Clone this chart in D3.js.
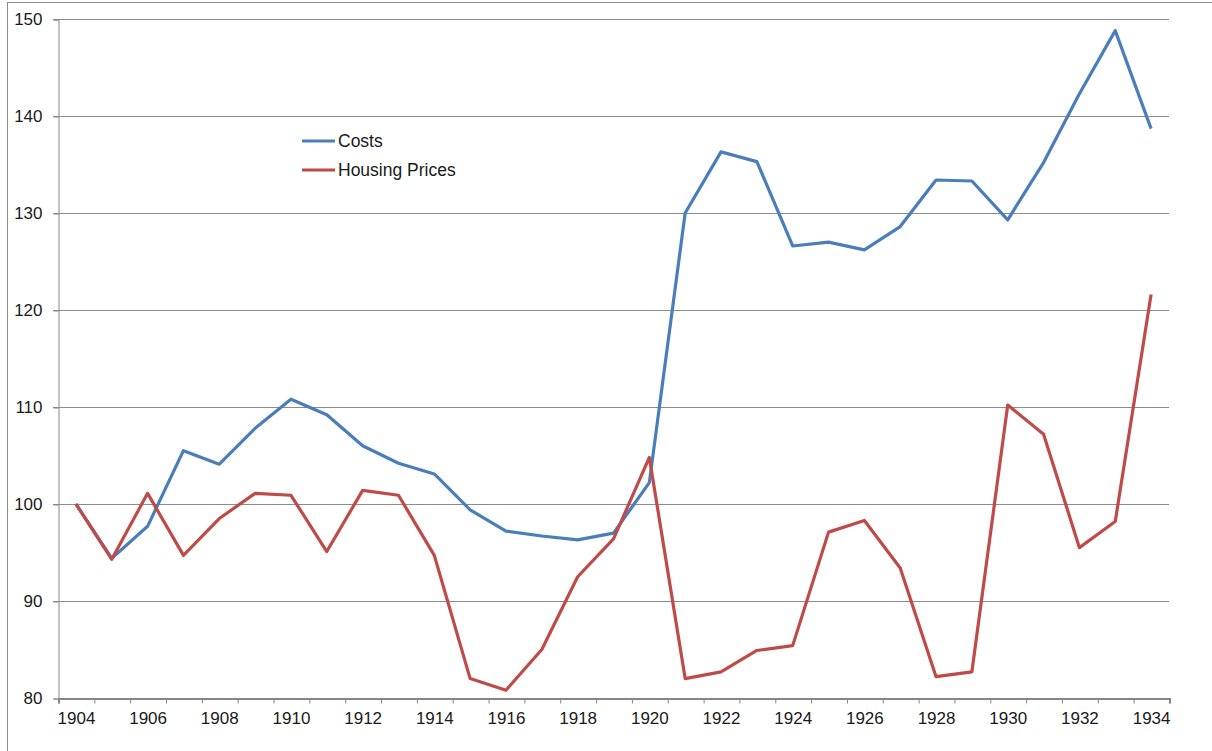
<!DOCTYPE html>
<html>
<head>
<meta charset="utf-8">
<script src="https://cdn.jsdelivr.net/npm/d3@7"></script>
<style>
body { margin: 0; background: #fff; }
text { font-family: "Liberation Sans", Arial, sans-serif; fill: #1a1a1a; }
</style>
</head>
<body>
<script>
var width = 1212, height = 751;

// data
var years = d3.range(1904, 1935);
var costs = [100, 94.4, 97.7, 105.5, 104.1, 107.8, 110.8, 109.2, 106.0, 104.2,
             103.1, 99.4, 97.2, 96.7, 96.3, 97.0, 102.2, 130.0, 136.3, 135.3,
             126.6, 127.0, 126.2, 128.6, 133.4, 133.3, 129.3, 135.2, 142.3, 148.8, 138.7];
var housing = [100, 94.3, 101.1, 94.7, 98.5, 101.1, 100.9, 95.1, 101.4, 100.9,
               94.7, 82.0, 80.8, 85.0, 92.5, 96.4, 104.8, 82.0, 82.7, 84.9,
               85.4, 97.1, 98.3, 93.4, 82.2, 82.7, 110.2, 107.2, 95.5, 98.2, 121.6];
var yTicks = [80, 90, 100, 110, 120, 130, 140, 150];
var seriesNames = ["Costs", "Housing Prices"];
var seriesColors = ["#4a7ebb", "#be4b48"];

var plotLeft = 58, plotRight = 1169, plotTop = 19, plotBottom = 698;

var svg = d3.select("body").append("svg")
    .attr("width", width)
    .attr("height", height);

// chart border (runs off the canvas on right/bottom)
svg.append("rect")
    .attr("x", 7.5).attr("y", 2.5)
    .attr("width", 1300).attr("height", 800)
    .attr("fill", "none")
    .attr("stroke", "#8c8c8c");

// index scale: band boundaries at integers, points at i + 0.5
var x = d3.scaleLinear().domain([0, years.length]).range([plotLeft, plotRight]);
var y = d3.scaleLinear().domain([80, 150]).range([plotBottom, plotTop]);

// gridlines
svg.append("g").selectAll("line").data(yTicks.slice(1)).join("line")
    .attr("x1", plotLeft - 5).attr("x2", plotRight)
    .attr("y1", function(d){ return Math.round(y(d)) + 0.5; })
    .attr("y2", function(d){ return Math.round(y(d)) + 0.5; })
    .attr("stroke", "#8c8c8c");

// y axis
var yAxis = svg.append("g")
    .attr("transform", "translate(" + (plotLeft + 0.5) + ",0.5)")
    .call(d3.axisLeft(y).tickValues(yTicks).tickSize(5).tickPadding(11));
yAxis.select(".domain").attr("stroke", "#868686");
yAxis.selectAll(".tick line").attr("stroke", "#868686");
yAxis.selectAll("text").attr("font-size", 17).attr("font-family", "Liberation Sans");

// x axis: boundary ticks
var xTicks = svg.append("g")
    .attr("transform", "translate(0.5," + (plotBottom + 0.5) + ")")
    .call(d3.axisBottom(x).tickValues(d3.range(0, years.length + 1)).tickSize(5).tickFormat(""));
xTicks.select(".domain").attr("stroke", "#868686").attr("stroke-width", 2);
xTicks.selectAll(".tick line").attr("stroke", "#868686");

// x axis labels every other year
var labelIdx = years.map(function(d, i){ return i; }).filter(function(i){ return years[i] % 2 === 0; });
var xLabels = svg.append("g")
    .attr("transform", "translate(0," + (plotBottom + 0.5) + ")")
    .call(d3.axisBottom(x).tickValues(labelIdx.map(function(i){ return i + 0.5; }))
        .tickSize(0).tickPadding(13)
        .tickFormat(function(d){ return years[Math.floor(d)]; }));
xLabels.select(".domain").remove();
xLabels.selectAll("text").attr("font-size", 17).attr("font-family", "Liberation Sans");

// lines
var line = d3.line()
    .x(function(d, i){ return x(i + 0.5); })
    .y(function(d){ return y(d); });

[costs, housing].forEach(function(s, k){
    svg.append("path")
        .datum(s)
        .attr("d", line)
        .attr("fill", "none")
        .attr("stroke", seriesColors[k])
        .attr("stroke-width", 3.2)
        .attr("stroke-linejoin", "round");
});

// legend
var legend = svg.append("g").attr("transform", "translate(302,141)");
seriesNames.forEach(function(name, k){
    var g = legend.append("g").attr("transform", "translate(0," + (k * 29) + ")");
    g.append("line")
        .attr("x1", 0).attr("x2", 33)
        .attr("stroke", seriesColors[k])
        .attr("stroke-width", 3.2);
    g.append("text")
        .attr("x", 36).attr("y", 6)
        .attr("font-size", 17.5)
        .text(name);
});
</script>
</body>
</html>
